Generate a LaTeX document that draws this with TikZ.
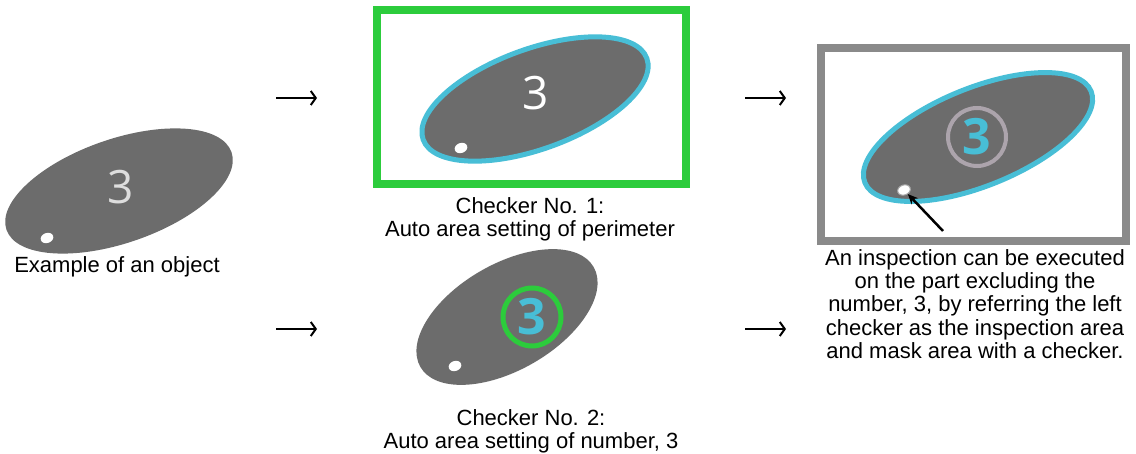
\documentclass[tikz,border=0pt]{standalone}
\usepackage{fontspec}
\setmainfont{Liberation Sans}
\newfontfamily\digitfont{Open Sans}
\usetikzlibrary{arrows.meta,shapes.geometric}
\definecolor{bodygray}{RGB}{108,108,108}
\definecolor{rimcyan}{RGB}{72,190,214}
\definecolor{checkgreen}{RGB}{44,204,60}
\definecolor{framegray}{RGB}{138,138,138}
\definecolor{ringgray}{RGB}{172,164,172}
\definecolor{digitlight}{RGB}{222,222,222}
\begin{document}
\begin{tikzpicture}[x=1pt,y=-1pt,
  caption/.style={font=\fontsize{22}{23.3}\selectfont, align=center, inner sep=0pt},
  body/.style={fill=bodygray},
  rim/.style={fill=bodygray, draw=rimcyan, line width=5pt},
  hole/.style={ellipse, fill=white, inner sep=0pt, minimum width=13pt, minimum height=10pt, rotate=20},
  digit/.style={font=\digitfont\fontsize{46}{46}\selectfont, inner sep=0pt},
  markdigit/.style={font=\digitfont\bfseries\fontsize{50}{50}\selectfont, inner sep=0pt, text=rimcyan},
  flow/.style={line width=2pt, -{Straight Barb[length=5pt,width=14pt,line width=2pt]}},
  pointer/.style={line width=2.5pt, -{Stealth[length=10pt,width=9pt]}},
]
\useasboundingbox (0,0) rectangle (1136,454);
\fill[white] (0,0) rectangle (1136,454);

% ---- the object itself
\fill[body, rotate around={19:(119,191)}] (119,191) ellipse [x radius=119pt, y radius=52pt];
\node[hole] (hole0) at (47,238) {};
\node[digit, text=digitlight] (dig0) at (121,187) {3};
\node[caption, anchor=base] (cap0) at (117,273) {Example of an object};

% ---- checker no. 1: perimeter
\draw[checkgreen, line width=8pt, fill=white] (377,10) rectangle (686,184);
\draw[rim, rotate around={20:(535,99)}] (535,99) ellipse [x radius=119pt, y radius=50pt];
\node[hole] (hole1) at (461,148) {};
\node[digit, text=white] (dig1) at (536,93) {3};
\node[caption, anchor=north] (cap1) at (530,197) {Checker No. 1:\\Auto area setting of perimeter};

% ---- checker no. 2: number
\fill[body, rotate around={30:(507,317)}] (507,317) ellipse [x radius=100pt, y radius=53pt];
\node[hole] (hole2) at (455,366) {};
\draw[checkgreen, line width=5pt] (532,317) circle [radius=29pt];
\node[markdigit] (dig2) at (532,317) {3};
\node[caption, anchor=north] (cap2) at (531,409) {Checker No. 2:\\Auto area setting of number, 3};

% ---- combined inspection
\draw[framegray, line width=8pt, fill=white] (821,48) rectangle (1126,241);
\draw[rim, rotate around={22:(978,137)}] (978,137) ellipse [x radius=122pt, y radius=49pt];
\node[hole, draw=bodygray!60, line width=1pt] (hole3) at (904,190) {};
\draw[ringgray, line width=4pt] (977,137) circle [radius=29pt];
\node[markdigit] (dig3) at (977,137) {3};
\coordinate (tail) at (943,231);
\draw[pointer] (tail) -- (hole3);
\node[caption, anchor=north] (cap3) at (975,249) {An inspection can be executed\\on the part excluding the\\number, 3, by referring the left\\checker as the inspection area\\and mask area with a checker.};

% ---- flow arrows
\coordinate (a1s) at (276,98);  \coordinate (a1e) at (317,98);
\coordinate (a2s) at (276,329); \coordinate (a2e) at (317,329);
\coordinate (a3s) at (745,98);  \coordinate (a3e) at (786,98);
\coordinate (a4s) at (745,329); \coordinate (a4e) at (786,329);
\draw[flow] (a1s) -- (a1e);
\draw[flow] (a2s) -- (a2e);
\draw[flow] (a3s) -- (a3e);
\draw[flow] (a4s) -- (a4e);
\end{tikzpicture}
\end{document}
